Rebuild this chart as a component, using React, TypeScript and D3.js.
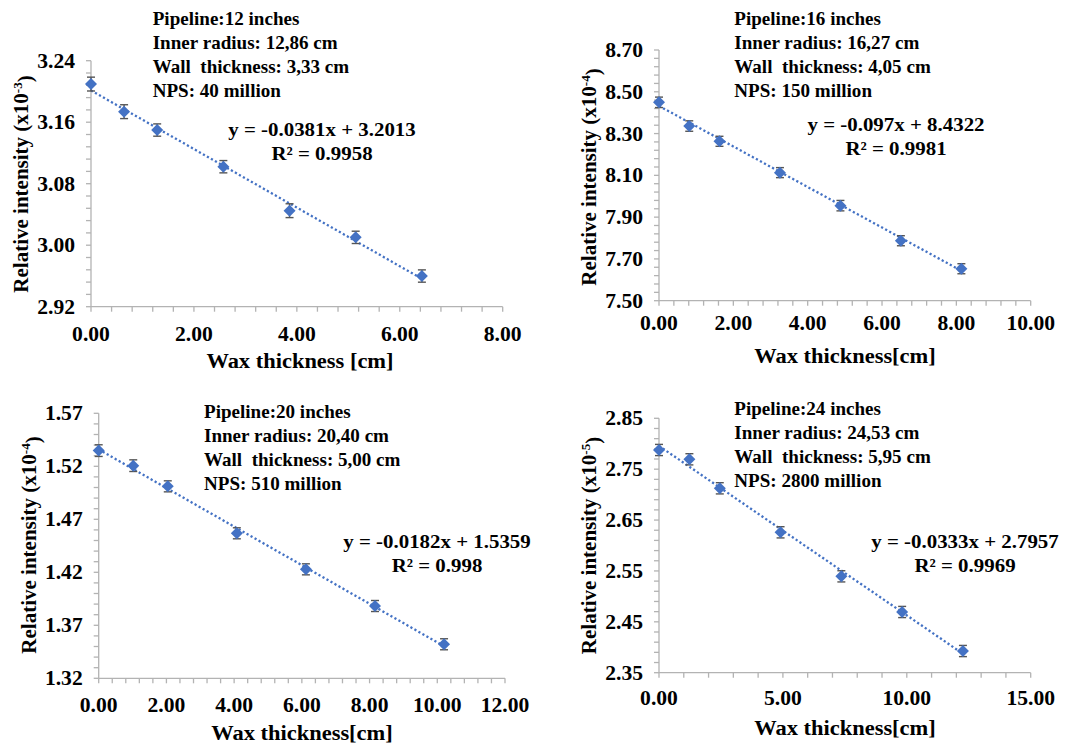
import React from 'react';
import * as d3 from 'd3';

// wax thickness (cm) and relative intensity for each pipeline size
const p12X = [0, 0.643, 1.286, 2.572, 3.858, 5.143, 6.43];
const p12Y = [3.2096, 3.1737, 3.1498, 3.1021, 3.0449, 3.0102, 2.9599];
const p12Err = [0.009, 0.009, 0.008, 0.008, 0.009, 0.008, 0.008];

const p16X = [0, 0.8135, 1.627, 3.254, 4.881, 6.508, 8.135];
const p16Y = [8.4495, 8.336, 8.263, 8.113, 7.955, 7.787, 7.653];
const p16Err = [0.025, 0.025, 0.024, 0.024, 0.025, 0.024, 0.024];

const p20X = [0, 1.02, 2.04, 4.08, 6.12, 8.16, 10.2];
const p20Y = [1.5348, 1.5206, 1.5011, 1.4568, 1.4228, 1.3882, 1.3521];
const p20Err = [0.0055, 0.0055, 0.0052, 0.0052, 0.0052, 0.0052, 0.0052];

const p24X = [0, 1.2265, 2.453, 4.906, 7.359, 9.812, 12.265];
const p24Y = [2.7877, 2.7694, 2.7124, 2.6259, 2.5394, 2.4693, 2.3926];
const p24Err = [0.011, 0.011, 0.011, 0.011, 0.011, 0.011, 0.011];

// fitted trend lines as printed on the chart
const slopes = [-0.0381, -0.097, -0.0182, -0.0333];
const intercepts = [3.2013, 8.4322, 1.5359, 2.7957];
const equations = ['y = -0.0381x + 3.2013', 'y = -0.097x + 8.4322', 'y = -0.0182x + 1.5359', 'y = -0.0333x + 2.7957'];
const r2Labels = ['R² = 0.9958', 'R² = 0.9981', 'R² = 0.998', 'R² = 0.9969'];

const yTicks12 = [2.92, 3.0, 3.08, 3.16, 3.24];
const yTicks16 = [7.5, 7.7, 7.9, 8.1, 8.3, 8.5, 8.7];
const yTicks20 = [1.32, 1.37, 1.42, 1.47, 1.52, 1.57];
const yTicks24 = [2.35, 2.45, 2.55, 2.65, 2.75, 2.85];
const xTicks12 = [0, 2, 4, 6, 8];
const xTicks16 = [0, 2, 4, 6, 8, 10];
const xTicks20 = [0, 2, 4, 6, 8, 10, 12];
const xTicks24 = [0, 5, 10, 15];

const notes12 = ['Pipeline:12 inches', 'Inner radius: 12,86 cm', 'Wall  thickness: 3,33 cm', 'NPS: 40 million'];
const notes16 = ['Pipeline:16 inches', 'Inner radius: 16,27 cm', 'Wall  thickness: 4,05 cm', 'NPS: 150 million'];
const notes20 = ['Pipeline:20 inches', 'Inner radius: 20,40 cm', 'Wall  thickness: 5,00 cm', 'NPS: 510 million'];
const notes24 = ['Pipeline:24 inches', 'Inner radius: 24,53 cm', 'Wall  thickness: 5,95 cm', 'NPS: 2800 million'];

const exps = ['-3', '-4', '-4', '-5'];

const FONT = '"Liberation Serif", "Times New Roman", serif';
const AXIS = '#b3b3b3';
const BLUE = '#4472C4';

// text stretched a little sideways, like the source picture
const Txt = ({ x, y, sx = 1, anchor = 'start', size, children }) => (
  <text transform={`translate(${x},${y}) scale(${sx},1)`} textAnchor={anchor} fontSize={size} style={{ whiteSpace: 'pre' }}>
    {children}
  </text>
);

const Panel = ({ xs, ys, errs, idx, yTicks, xTicks, yMinor, xMinor, notes, box, xTitle, layout }) => {
  const x = d3.scaleLinear().domain([xTicks[0], xTicks[xTicks.length - 1]]).range([box.left, box.right]);
  const y = d3.scaleLinear().domain([yTicks[0], yTicks[yTicks.length - 1]]).range([box.bottom, box.top]);

  const nx = Math.round((x.domain()[1] - x.domain()[0]) / xMinor);
  const ny = Math.round((y.domain()[1] - y.domain()[0]) / yMinor);
  const xMinorTicks = d3.range(nx + 1).map(i => x.domain()[0] + i * xMinor);
  const yMinorTicks = d3.range(ny + 1).map(i => y.domain()[0] + i * yMinor);

  const trend = d3.line()
    .x(d => x(d))
    .y(d => y(slopes[idx] * d + intercepts[idx]));

  const diamond = d3.symbol(d3.symbolSquare, 72)();

  return (
    <g fontFamily={FONT} fontWeight="bold" fill="#000">
      {/* axes */}
      <line x1={box.left} x2={box.left} y1={box.top} y2={box.bottom} stroke={AXIS} strokeWidth={1.3} />
      <line x1={box.left} x2={box.right} y1={box.bottom} y2={box.bottom} stroke={AXIS} strokeWidth={1.3} />
      {yMinorTicks.map((t, i) => (
        <line key={'ym' + i} x1={box.left - 5} x2={box.left} y1={y(t)} y2={y(t)} stroke={AXIS} strokeWidth={1.3} />
      ))}
      {xMinorTicks.map((t, i) => (
        <line key={'xm' + i} x1={x(t)} x2={x(t)} y1={box.bottom} y2={box.bottom + 5} stroke={AXIS} strokeWidth={1.3} />
      ))}
      {yTicks.map(t => (
        <Txt key={'yl' + t} x={box.left - 16} y={y(t) + 7} anchor="end" size={20} sx={1.08}>{t.toFixed(2)}</Txt>
      ))}
      {xTicks.map(t => (
        <Txt key={'xl' + t} x={x(t)} y={box.bottom + layout.xLabelDy} anchor="middle" size={20} sx={1.08}>{t.toFixed(2)}</Txt>
      ))}

      {/* titles */}
      <Txt x={layout.xTitleX} y={layout.xTitleY} anchor="middle" size={21} sx={1.07}>{xTitle}</Txt>
      <text transform={`translate(${layout.yTitleX},${layout.yTitleY}) rotate(-90)`} textAnchor="middle" fontSize={21}>
        Relative intensity (x10<tspan dy="-0.45em" fontSize={13}>{exps[idx]}</tspan><tspan dy="0.45em">)</tspan>
      </text>

      {/* trend line */}
      <path d={trend([0, xs[xs.length - 1]])} fill="none" stroke={BLUE} strokeWidth={2.3} strokeDasharray="2.2 2.4" />

      {/* error bars + markers */}
      {xs.map((v, i) => (
        <g key={'e' + i} stroke="#555" strokeWidth={1.4}>
          <line x1={x(v)} x2={x(v)} y1={y(ys[i] - errs[i])} y2={y(ys[i] + errs[i])} />
          <line x1={x(v) - 4} x2={x(v) + 4} y1={y(ys[i] - errs[i])} y2={y(ys[i] - errs[i])} />
          <line x1={x(v) - 4} x2={x(v) + 4} y1={y(ys[i] + errs[i])} y2={y(ys[i] + errs[i])} />
        </g>
      ))}
      {xs.map((v, i) => (
        <path key={'m' + i} d={diamond} transform={`translate(${x(v)},${y(ys[i])}) rotate(45)`} fill={BLUE} />
      ))}

      {/* annotations */}
      {notes.map((n, i) => (
        <Txt key={'n' + i} x={layout.noteX} y={layout.noteY + i * 23.9} size={18} sx={1.06}>{n}</Txt>
      ))}
      <Txt x={layout.eqX} y={layout.eqY} anchor="middle" size={19} sx={1.1}>{equations[idx]}</Txt>
      <Txt x={layout.eqX} y={layout.eqY + 24} anchor="middle" size={19} sx={1.1}>{r2Labels[idx]}</Txt>
    </g>
  );
};

export default function App() {
  return (
    <svg width={1088} height={745} style={{ position: 'absolute', left: 0, top: 0, background: '#fff' }}>
      <rect width={1088} height={745} fill="#fff" />
      <Panel xs={p12X} ys={p12Y} errs={p12Err} idx={0} yTicks={yTicks12} xTicks={xTicks12} yMinor={0.016} xMinor={0.4}
        notes={notes12} xTitle="Wax thickness [cm]"
        box={{ left: 91, right: 502.7, top: 60.7, bottom: 306.7 }}
        layout={{ xLabelDy: 34.5, xTitleX: 300, xTitleY: 368, yTitleX: 28, yTitleY: 184, noteX: 152.7, noteY: 25, eqX: 322, eqY: 136 }} />
      <Panel xs={p16X} ys={p16Y} errs={p16Err} idx={1} yTicks={yTicks16} xTicks={xTicks16} yMinor={0.04} xMinor={0.4}
        notes={notes16} xTitle="Wax thickness[cm]"
        box={{ left: 659, right: 1030.7, top: 50, bottom: 300.7 }}
        layout={{ xLabelDy: 29.5, xTitleX: 845, xTitleY: 363, yTitleX: 596, yTitleY: 177, noteX: 734.3, noteY: 25, eqX: 896, eqY: 131 }} />
      <Panel xs={p20X} ys={p20Y} errs={p20Err} idx={2} yTicks={yTicks20} xTicks={xTicks20} yMinor={0.01} xMinor={0.4}
        notes={notes20} xTitle="Wax thickness[cm]"
        box={{ left: 98.7, right: 505, top: 413.3, bottom: 678.3 }}
        layout={{ xLabelDy: 33.4, xTitleX: 302, xTitleY: 740, yTitleX: 36, yTitleY: 545, noteX: 204, noteY: 418.3, eqX: 437, eqY: 548 }} />
      <Panel xs={p24X} ys={p24Y} errs={p24Err} idx={3} yTicks={yTicks24} xTicks={xTicks24} yMinor={0.02} xMinor={1}
        notes={notes24} xTitle="Wax thickness[cm]"
        box={{ left: 659, right: 1030.7, top: 418.3, bottom: 672.7 }}
        layout={{ xLabelDy: 32.3, xTitleX: 845, xTitleY: 735, yTitleX: 596, yTitleY: 545.5, noteX: 734.3, noteY: 415, eqX: 965, eqY: 548 }} />
    </svg>
  );
}
